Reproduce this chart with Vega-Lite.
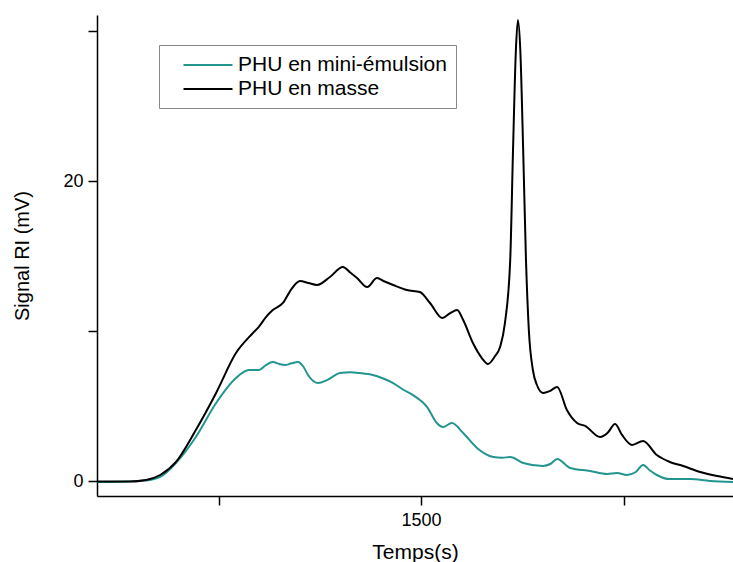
{
  "$schema": "https://vega.github.io/schema/vega-lite/v6.json",
  "width": 636,
  "height": 481,
  "autosize": {"type": "none"},
  "padding": {"left": 97, "top": 15, "right": 0, "bottom": 66},
  "background": "white",
  "config": {
    "view": {"stroke": null},
    "font": "Liberation Sans"
  },
  "data": {
    "values": [
      {"t":700,"v":-0.07,"s":"PHU en mini-émulsion"},{"t":760,"v":-0.05,"s":"PHU en mini-émulsion"},{"t":821,"v":0.03,"s":"PHU en mini-émulsion"},{"t":856,"v":0.27,"s":"PHU en mini-émulsion"},{"t":895,"v":1.2,"s":"PHU en mini-émulsion"},{"t":944,"v":2.93,"s":"PHU en mini-émulsion"},{"t":994,"v":5.2,"s":"PHU en mini-émulsion"},{"t":1043,"v":6.87,"s":"PHU en mini-émulsion"},{"t":1075,"v":7.4,"s":"PHU en mini-émulsion"},{"t":1100,"v":7.4,"s":"PHU en mini-émulsion"},{"t":1117,"v":7.73,"s":"PHU en mini-émulsion"},{"t":1134,"v":7.93,"s":"PHU en mini-émulsion"},{"t":1150,"v":7.8,"s":"PHU en mini-émulsion"},{"t":1164,"v":7.73,"s":"PHU en mini-émulsion"},{"t":1180,"v":7.85,"s":"PHU en mini-émulsion"},{"t":1196,"v":7.93,"s":"PHU en mini-émulsion"},{"t":1210,"v":7.6,"s":"PHU en mini-émulsion"},{"t":1221,"v":7.07,"s":"PHU en mini-émulsion"},{"t":1246,"v":6.53,"s":"PHU en mini-émulsion"},{"t":1268,"v":6.73,"s":"PHU en mini-émulsion"},{"t":1300,"v":7.2,"s":"PHU en mini-émulsion"},{"t":1325,"v":7.25,"s":"PHU en mini-émulsion"},{"t":1349,"v":7.2,"s":"PHU en mini-émulsion"},{"t":1381,"v":7.07,"s":"PHU en mini-émulsion"},{"t":1405,"v":6.85,"s":"PHU en mini-émulsion"},{"t":1431,"v":6.53,"s":"PHU en mini-émulsion"},{"t":1455,"v":6.1,"s":"PHU en mini-émulsion"},{"t":1480,"v":5.73,"s":"PHU en mini-émulsion"},{"t":1515,"v":4.93,"s":"PHU en mini-émulsion"},{"t":1539,"v":3.87,"s":"PHU en mini-émulsion"},{"t":1554,"v":3.6,"s":"PHU en mini-émulsion"},{"t":1576,"v":3.87,"s":"PHU en mini-émulsion"},{"t":1604,"v":3.2,"s":"PHU en mini-émulsion"},{"t":1638,"v":2.2,"s":"PHU en mini-émulsion"},{"t":1678,"v":1.6,"s":"PHU en mini-émulsion"},{"t":1700,"v":1.55,"s":"PHU en mini-émulsion"},{"t":1720,"v":1.6,"s":"PHU en mini-émulsion"},{"t":1752,"v":1.2,"s":"PHU en mini-émulsion"},{"t":1801,"v":1.0,"s":"PHU en mini-émulsion"},{"t":1820,"v":1.15,"s":"PHU en mini-émulsion"},{"t":1836,"v":1.47,"s":"PHU en mini-émulsion"},{"t":1868,"v":0.87,"s":"PHU en mini-émulsion"},{"t":1917,"v":0.67,"s":"PHU en mini-émulsion"},{"t":1959,"v":0.47,"s":"PHU en mini-émulsion"},{"t":1984,"v":0.53,"s":"PHU en mini-émulsion"},{"t":2008,"v":0.4,"s":"PHU en mini-émulsion"},{"t":2030,"v":0.6,"s":"PHU en mini-émulsion"},{"t":2048,"v":1.07,"s":"PHU en mini-émulsion"},{"t":2065,"v":0.7,"s":"PHU en mini-émulsion"},{"t":2082,"v":0.4,"s":"PHU en mini-émulsion"},{"t":2114,"v":0.13,"s":"PHU en mini-émulsion"},{"t":2164,"v":0.13,"s":"PHU en mini-émulsion"},{"t":2213,"v":0.0,"s":"PHU en mini-émulsion"},{"t":2270,"v":-0.07,"s":"PHU en mini-émulsion"},
      {"t":700,"v":-0.03,"s":"PHU en masse"},{"t":781,"v":-0.03,"s":"PHU en masse"},{"t":821,"v":0.07,"s":"PHU en masse"},{"t":856,"v":0.4,"s":"PHU en masse"},{"t":895,"v":1.27,"s":"PHU en masse"},{"t":944,"v":3.4,"s":"PHU en masse"},{"t":994,"v":5.87,"s":"PHU en masse"},{"t":1043,"v":8.53,"s":"PHU en masse"},{"t":1085,"v":9.87,"s":"PHU en masse"},{"t":1100,"v":10.3,"s":"PHU en masse"},{"t":1117,"v":10.93,"s":"PHU en masse"},{"t":1134,"v":11.4,"s":"PHU en masse"},{"t":1159,"v":11.87,"s":"PHU en masse"},{"t":1180,"v":12.8,"s":"PHU en masse"},{"t":1201,"v":13.33,"s":"PHU en masse"},{"t":1222,"v":13.2,"s":"PHU en masse"},{"t":1243,"v":13.07,"s":"PHU en masse"},{"t":1275,"v":13.6,"s":"PHU en masse"},{"t":1307,"v":14.27,"s":"PHU en masse"},{"t":1325,"v":13.9,"s":"PHU en masse"},{"t":1342,"v":13.53,"s":"PHU en masse"},{"t":1367,"v":12.93,"s":"PHU en masse"},{"t":1391,"v":13.53,"s":"PHU en masse"},{"t":1410,"v":13.3,"s":"PHU en masse"},{"t":1431,"v":13.07,"s":"PHU en masse"},{"t":1465,"v":12.73,"s":"PHU en masse"},{"t":1497,"v":12.6,"s":"PHU en masse"},{"t":1522,"v":11.87,"s":"PHU en masse"},{"t":1552,"v":10.87,"s":"PHU en masse"},{"t":1572,"v":11.2,"s":"PHU en masse"},{"t":1589,"v":11.4,"s":"PHU en masse"},{"t":1604,"v":10.73,"s":"PHU en masse"},{"t":1628,"v":9.2,"s":"PHU en masse"},{"t":1650,"v":8.2,"s":"PHU en masse"},{"t":1665,"v":7.8,"s":"PHU en masse"},{"t":1682,"v":8.3,"s":"PHU en masse"},{"t":1695,"v":8.93,"s":"PHU en masse"},{"t":1707,"v":10.53,"s":"PHU en masse"},{"t":1720,"v":14.7,"s":"PHU en masse"},{"t":1727,"v":22.1,"s":"PHU en masse"},{"t":1734,"v":28.7,"s":"PHU en masse"},{"t":1739,"v":30.73,"s":"PHU en masse"},{"t":1745,"v":28.7,"s":"PHU en masse"},{"t":1752,"v":22.1,"s":"PHU en masse"},{"t":1759,"v":14.7,"s":"PHU en masse"},{"t":1766,"v":10.07,"s":"PHU en masse"},{"t":1776,"v":7.4,"s":"PHU en masse"},{"t":1786,"v":6.4,"s":"PHU en masse"},{"t":1801,"v":5.87,"s":"PHU en masse"},{"t":1818,"v":6.0,"s":"PHU en masse"},{"t":1836,"v":6.27,"s":"PHU en masse"},{"t":1860,"v":4.73,"s":"PHU en masse"},{"t":1885,"v":3.87,"s":"PHU en masse"},{"t":1905,"v":3.67,"s":"PHU en masse"},{"t":1942,"v":2.93,"s":"PHU en masse"},{"t":1960,"v":3.2,"s":"PHU en masse"},{"t":1979,"v":3.8,"s":"PHU en masse"},{"t":1996,"v":3.07,"s":"PHU en masse"},{"t":2021,"v":2.4,"s":"PHU en masse"},{"t":2048,"v":2.67,"s":"PHU en masse"},{"t":2082,"v":1.73,"s":"PHU en masse"},{"t":2114,"v":1.27,"s":"PHU en masse"},{"t":2147,"v":1.0,"s":"PHU en masse"},{"t":2189,"v":0.6,"s":"PHU en masse"},{"t":2231,"v":0.33,"s":"PHU en masse"},{"t":2270,"v":0.13,"s":"PHU en masse"}
    ]
  },
  "mark": {"type": "line", "strokeWidth": 2, "interpolate": "monotone", "clip": true},
  "encoding": {
    "x": {
      "field": "t", "type": "quantitative",
      "scale": {"domain": [700, 2270], "nice": false, "zero": false},
      "axis": {
        "title": "Temps(s)", "values": [1000, 1500, 2000],
        "labelExpr": "datum.value == 1500 ? '1500' : ''",
        "grid": false, "domainColor": "black", "domainWidth": 1.5, "tickColor": "black", "tickWidth": 1.5, "tickSize": 9,
        "labelFontSize": 18, "labelColor": "black", "labelPadding": 6, "labelFont": "Liberation Sans",
        "titleFontSize": 21, "titleFontWeight": "normal", "titleColor": "black", "titlePadding": 12, "titleFont": "Liberation Sans"
      }
    },
    "y": {
      "field": "v", "type": "quantitative",
      "scale": {"domain": [-1, 31.07], "nice": false, "zero": false},
      "axis": {
        "title": "Signal RI (mV)", "values": [0, 10, 20, 30],
        "labelExpr": "datum.value == 0 || datum.value == 20 ? datum.label : ''",
        "grid": false, "domainColor": "black", "domainWidth": 1.5, "tickColor": "black", "tickWidth": 1.5, "tickSize": 9,
        "labelFontSize": 18, "labelColor": "black", "labelPadding": 5, "labelFont": "Liberation Sans",
        "titleFontSize": 20, "titleFontWeight": "normal", "titleColor": "black", "titlePadding": 30, "titleFont": "Liberation Sans"
      }
    },
    "color": {
      "field": "s", "type": "nominal",
      "sort": ["PHU en mini-émulsion", "PHU en masse"],
      "scale": {"domain": ["PHU en mini-émulsion", "PHU en masse"], "range": ["#23958f", "#000000"]},
      "legend": {
        "title": null, "orient": "none", "legendX": 62, "legendY": 30,
        "symbolType": "M-2.45,0H2.45", "symbolSize": 400, "symbolStrokeWidth": 2, "symbolOffset": 29,
        "labelFontSize": 21, "labelFont": "Liberation Sans", "labelColor": "black", "labelOffset": 19, "labelLimit": 500,
        "strokeColor": "#888888", "padding": 9, "rowPadding": 3, "fillColor": "white"
      }
    }
  }
}
